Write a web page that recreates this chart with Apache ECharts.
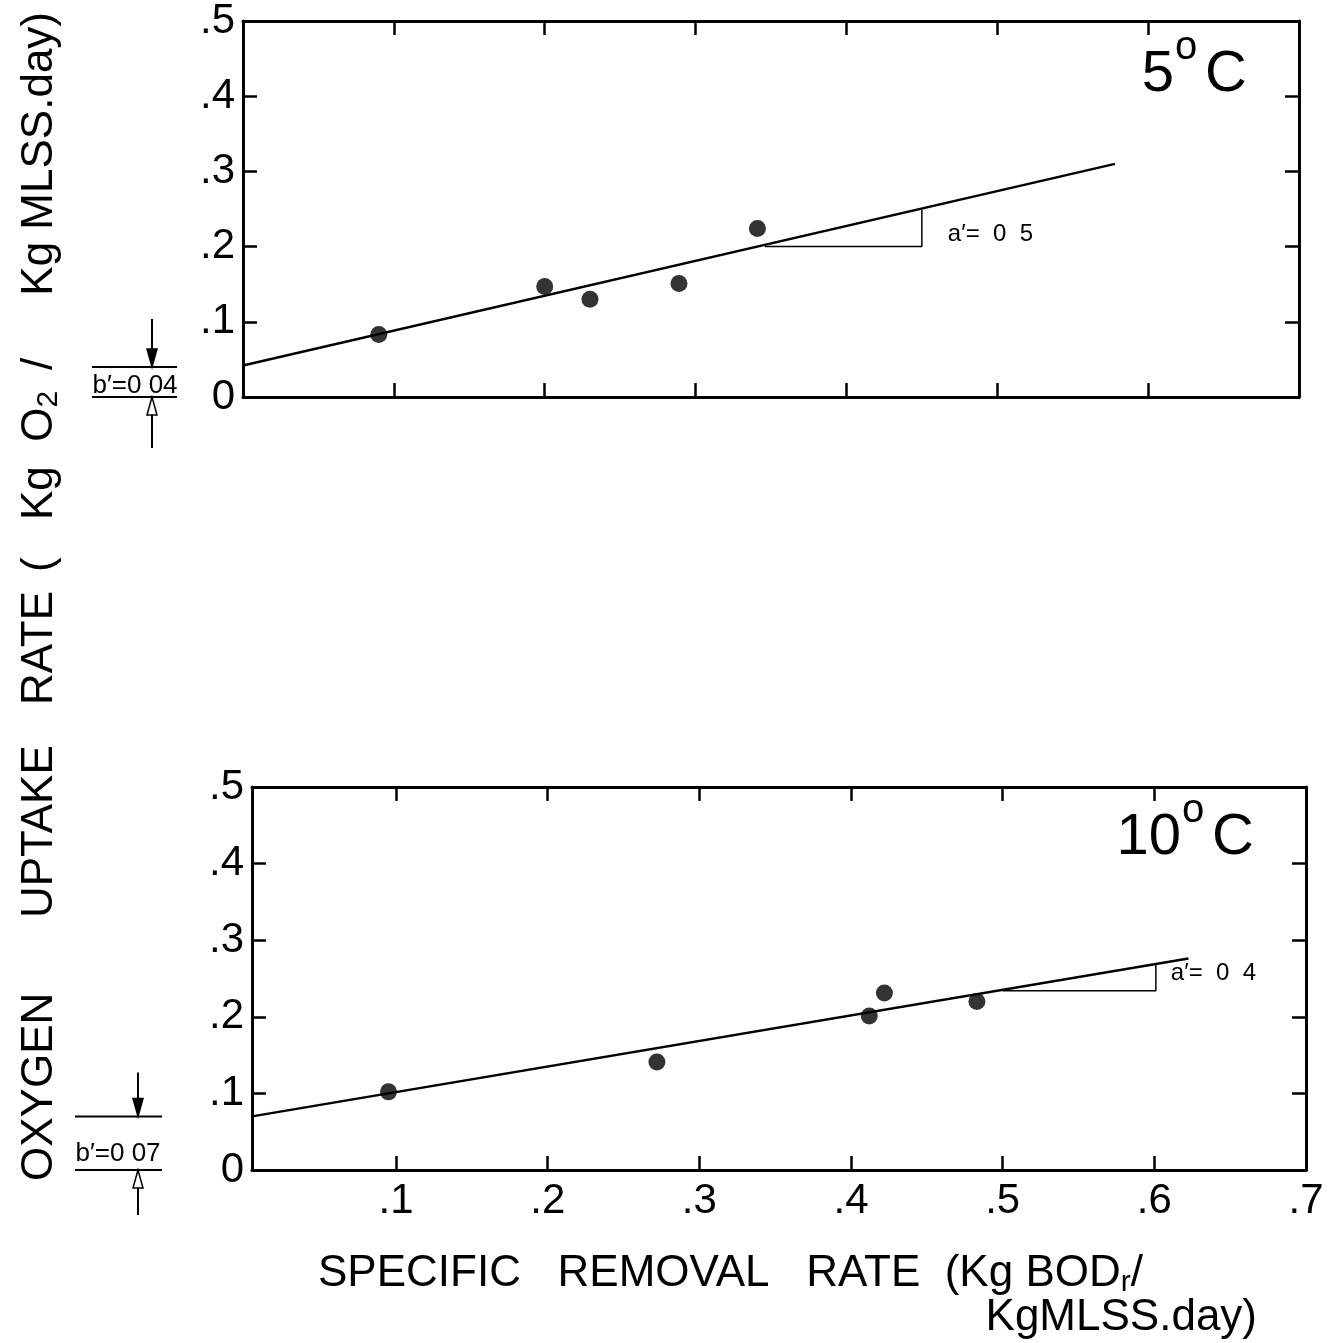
<!DOCTYPE html>
<html>
<head>
<meta charset="utf-8">
<script src="https://cdn.jsdelivr.net/npm/echarts@6/dist/echarts.min.js"></script>
<style>
  html, body { margin: 0; padding: 0; background: #fff; }
  #chart { width: 1330px; height: 1343px; }
</style>
</head>
<body>
<div id="chart"></div>
<script>
// ---- measurements -------------------------------------------------------
// 5 °C run: specific removal rate vs. oxygen uptake rate
const run5X = [0.090, 0.200, 0.230, 0.289, 0.341];
const run5Y = [0.083, 0.147, 0.130, 0.151, 0.224];
const fit5 = [[0, 0.042], [0.578, 0.310]];
const slope5 = [[0.346, 0.200], [0.450, 0.200], [0.450, 0.249]];
const intercept5 = 0.04;

// 10 °C run
const run10X = [0.095, 0.272, 0.412, 0.422, 0.483];
const run10Y = [0.102, 0.141, 0.201, 0.231, 0.220];
const fit10 = [[0.005, 0.070], [0.6225, 0.276]];
const slope10 = [[0.500, 0.234], [0.601, 0.234], [0.601, 0.269]];
const intercept10 = 0.07;

// axis ticks
const xTickValues = [0.1, 0.2, 0.3, 0.4, 0.5, 0.6, 0.7];
const xTickLabels = ['.1', '.2', '.3', '.4', '.5', '.6', '.7'];
const yTickValues = [0, 0.1, 0.2, 0.3, 0.4, 0.5];
const yTickLabels = ['0', '.1', '.2', '.3', '.4', '.5'];

// text
const panelTemps = ['5', '10'];
const slopeTexts = ['a′=  0  5', 'a′=  0  4'];
const interceptTexts = ['b′=0 04', 'b′=0 07'];
const yTitleWords = ['OXYGEN', 'UPTAKE', 'RATE', '('];
const yTitleUnit = ['Kg  O', '2', '/', 'Kg MLSS.day)'];
const xTitle1 = 'SPECIFIC   REMOVAL   RATE  (Kg BOD';
const xTitle2 = 'KgMLSS.day)';

// ---- chart ---------------------------------------------------------------
const FONT = '"Liberation Sans", Arial, Helvetica, sans-serif';
const INK = '#000';

const chart = echarts.init(document.getElementById('chart'));

function pick(values, labels) {
  return v => {
    const i = values.findIndex(t => Math.abs(t - v) < 1e-6);
    return i < 0 ? '' : labels[i];
  };
}
const frame = { show: true, onZero: false, lineStyle: { color: INK, width: 3 } };
const ticksIn = vals => ({ show: true, inside: true, length: 14, customValues: vals,
  lineStyle: { color: INK, width: 2.5 } });
const tickFont = { fontSize: 42, fontFamily: FONT, color: INK };

function xPair(gridIndex, min, labelled) {
  const base = { type: 'value', gridIndex, min, max: 0.7, splitLine: { show: false },
    axisLine: frame, axisTick: ticksIn(xTickValues) };
  return [
    Object.assign({}, base, { position: 'bottom',
      axisLabel: labelled ? Object.assign({ show: true, margin: 10, customValues: xTickValues,
        formatter: pick(xTickValues, xTickLabels) }, tickFont) : { show: false } }),
    Object.assign({}, base, { position: 'top', axisLabel: { show: false } })
  ];
}
function yPair(gridIndex) {
  const base = { type: 'value', gridIndex, min: 0, max: 0.5, splitLine: { show: false },
    axisLine: frame, axisTick: ticksIn(yTickValues) };
  return [
    Object.assign({}, base, { position: 'left',
      axisLabel: Object.assign({ show: true, margin: 8, customValues: yTickValues,
        formatter: pick(yTickValues, yTickLabels) }, tickFont) }),
    Object.assign({}, base, { position: 'right', axisLabel: { show: false } })
  ];
}
function panelSeries(xi, yi, xs, ys, fit, tri) {
  return [
    { type: 'line', xAxisIndex: xi, yAxisIndex: yi, data: fit, showSymbol: false, symbol: 'none',
      lineStyle: { color: INK, width: 2.5 }, z: 2 },
    { type: 'line', xAxisIndex: xi, yAxisIndex: yi, data: tri, showSymbol: false, symbol: 'none',
      lineStyle: { color: INK, width: 1.5 }, z: 2 },
    { type: 'scatter', xAxisIndex: xi, yAxisIndex: yi, data: xs.map((x, i) => [x, ys[i]]),
      symbol: 'circle', symbolSize: 17, itemStyle: { color: INK }, z: 3 }
  ];
}

chart.setOption({
  animation: false,
  backgroundColor: '#fff',
  grid: [
    { left: 243, right: 31, top: 15, height: 382 },
    { left: 252, right: 24, top: 787, height: 383 }
  ],
  xAxis: xPair(0, 0, false).concat(xPair(1, 0.005, true)),
  yAxis: yPair(0).concat(yPair(1)),
  series: panelSeries(0, 0, run5X, run5Y, fit5, slope5)
    .concat(panelSeries(2, 2, run10X, run10Y, fit10, slope10))
});

// ---- annotations placed through the axis scales ----------------------------
const toPx = (seriesIndex, p) => chart.convertToPixel({ seriesIndex }, p);
const gridRect = i => chart.getModel().getComponent('grid', i).coordinateSystem.getRect();
const g = [];
const txt = (x, y, text, size, extra) => g.push({ type: 'text', x, y, silent: true,
  style: Object.assign({ text, fontSize: size, fontFamily: FONT, fill: INK,
    align: 'center', verticalAlign: 'middle' }, extra || {}) });
const seg = (x1, y1, x2, y2, w) => g.push({ type: 'line', silent: true,
  shape: { x1, y1, x2, y2 }, style: { stroke: INK, lineWidth: w } });
const head = (x, tipY, dir, hollow) => g.push({ type: 'polygon', silent: true,
  shape: { points: [[x, tipY], [x - 5, tipY - dir * 18], [x + 5, tipY - dir * 18]] },
  style: { fill: hollow ? '#fff' : INK, stroke: INK, lineWidth: 1.5 } });

// intercept b′ bracket left of the y axis
function interceptMark(si, gi, b, label, o) {
  const yb = toPx(si, [0.1, b])[1];
  const y0 = toPx(si, [0.1, 0])[1];
  const left = gridRect(gi).x;
  seg(left + o.l, yb, left + o.r, yb, 2);
  seg(left + o.l, y0, left + o.r, y0, 2);
  seg(left + o.a, yb - o.up, left + o.a, yb - 16, 2);
  head(left + o.a, yb, 1, false);
  seg(left + o.a, y0 + o.down, left + o.a, y0 + 16, 2);
  head(left + o.a, y0, -1, true);
  txt(left + o.t, y0 - o.ty, label, 26);
}
interceptMark(0, 0, intercept5, interceptTexts[0], { l: -151, r: -66, a: -91, up: 48, down: 51, t: -108, ty: 11 });
interceptMark(3, 1, intercept10, interceptTexts[1], { l: -177, r: -90, a: -114, up: 44, down: 45, t: -134, ty: 16 });

// slope labels beside each triangle
[[0, slope5], [3, slope10]].forEach(([si, tri], k) => {
  const corner = toPx(si, [tri[1][0], (tri[1][1] + tri[2][1]) / 2]);
  txt(corner[0] + (k === 0 ? 26 : 15), corner[1] + (k === 0 ? 6 : -4), slopeTexts[k], 24, { align: 'left' });
});

// panel temperatures
function tempLabel(gi, num, numRightFromEdge, yOff) {
  const r = gridRect(gi);
  const right = r.x + r.width, y = r.y + yOff;
  txt(right - numRightFromEdge, y, num, 58, { align: 'right' });
  txt(right - numRightFromEdge + 12, y - 27, 'o', 40, { align: 'center' });
  txt(right - numRightFromEdge + 52, y, 'C', 58, { align: 'center' });
}
tempLabel(0, panelTemps[0], 125, 54);
tempLabel(1, panelTemps[1], 125, 51);

// vertical axis title, read bottom to top
const vText = (y, text, align, extra) => g.push({ type: 'text', x: 40, y, rotation: Math.PI / 2, silent: true,
  style: Object.assign({ text, fontSize: 44, fontFamily: FONT, fill: INK, align, verticalAlign: 'middle' }, extra || {}) });
vText(1181, yTitleWords[0], 'left');
vText(918, yTitleWords[1], 'left');
vText(705, yTitleWords[2], 'left');
vText(572, yTitleWords[3], 'left');
vText(520, '{t|' + yTitleUnit[0] + '}{s|' + yTitleUnit[1] + '}', 'left', {
  rich: { t: { fontSize: 44, fontFamily: FONT, color: INK, lineHeight: 48 },
          s: { fontSize: 30, fontFamily: FONT, color: INK, lineHeight: 24, verticalAlign: 'bottom' } } });
vText(364, yTitleUnit[2], 'center');
vText(12, yTitleUnit[3], 'right');

// horizontal axis title
g.push({ type: 'text', x: 318, y: 1274, silent: true,
  style: { text: '{t|' + xTitle1 + '}{s|r}{t|/}', align: 'left', verticalAlign: 'middle',
    rich: { t: { fontSize: 44, fontFamily: FONT, color: INK, lineHeight: 48 },
            s: { fontSize: 30, fontFamily: FONT, color: INK, lineHeight: 24, verticalAlign: 'bottom' } } } });
txt(1257, 1318, xTitle2, 44, { align: 'right' });

chart.setOption({ graphic: g });
</script>
</body>
</html>
